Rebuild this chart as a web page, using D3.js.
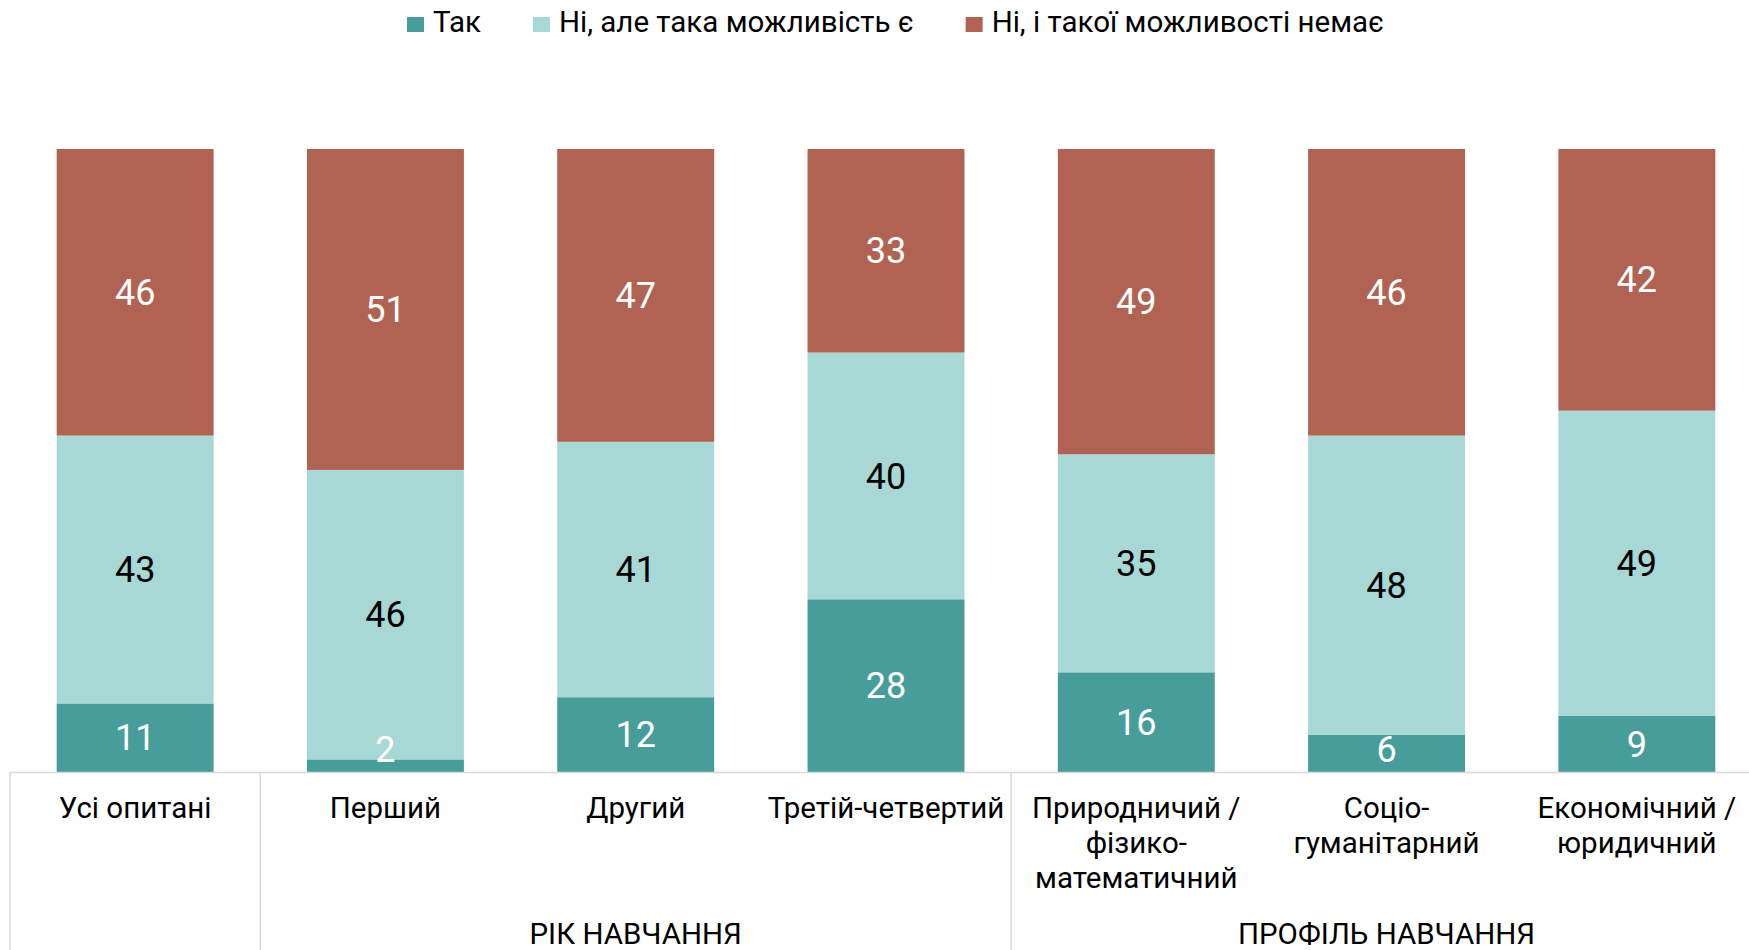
<!DOCTYPE html>
<html>
<head>
<meta charset="utf-8">
<script src="https://cdn.jsdelivr.net/npm/d3@7"></script>
<style>
  html, body { margin: 0; padding: 0; background: #fff; }
  svg { display: block; font-family: Roboto, "Noto Sans", sans-serif; }
</style>
</head>
<body>
<svg id="chart" width="1749" height="950"></svg>
<script>
// Category labels (multi-line) for the seven bars
const categories = [
  ["Усі опитані"],
  ["Перший"],
  ["Другий"],
  ["Третій-четвертий"],
  ["Природничий /", "фізико-", "математичний"],
  ["Соціо-", "гуманітарний"],
  ["Економічний /", "юридичний"]
];

// Series (percent of respondents)
const seriesNames = ["Так", "Ні, але така можливість є", "Ні, і такої можливості немає"];
const yesValues      = [11, 2, 12, 28, 16, 6, 9];
const possibleValues = [43, 46, 41, 40, 35, 48, 49];
const noValues       = [46, 51, 47, 33, 49, 46, 42];

// Category groups shown under the axis
const groupNames = ["РІК НАВЧАННЯ", "ПРОФІЛЬ НАВЧАННЯ"];
const groupRanges = [[1, 3], [4, 6]];

const colors = ["#479d99", "#a8d8d5", "#b06353"];
const labelColors = ["#ffffff", "#000000", "#ffffff"];

const svg = d3.select("#chart");
const W = 1749, H = 950;
const plotLeft = 10, plotRight = 1762, plotTop = 149, plotBottom = 772;
const textSize = 29.5, valueSize = 36;

const keys = categories.map((c, i) => i);
const rows = keys.map(i => ({ idx: i, s0: yesValues[i], s1: possibleValues[i], s2: noValues[i] }));

// 100% stacked bars
const stack = d3.stack().keys(["s0", "s1", "s2"]).offset(d3.stackOffsetExpand);
const stacked = stack(rows);

const x = d3.scaleBand().domain(keys).range([plotLeft, plotRight])
  .paddingInner(0.373).paddingOuter(0.1865);
const y = d3.scaleLinear().domain([0, 1]).range([plotBottom, plotTop]);

// Bars
const layers = svg.append("g").selectAll("g").data(stacked).join("g")
  .attr("fill", (d, i) => colors[i]);
layers.selectAll("rect").data(d => d).join("rect")
  .attr("x", d => x(d.data.idx))
  .attr("width", x.bandwidth())
  .attr("y", d => y(d[1]))
  .attr("height", d => y(d[0]) - y(d[1]));

// Value labels, centred in each segment (kept above the axis for thin segments)
const valueArrays = [yesValues, possibleValues, noValues];
stacked.forEach((layer, li) => {
  svg.append("g").selectAll("text").data(layer).join("text")
    .attr("x", d => x(d.data.idx) + x.bandwidth() / 2)
    .attr("y", d => Math.min((y(d[0]) + y(d[1])) / 2, plotBottom - 23))
    .attr("dy", "0.35em")
    .attr("text-anchor", "middle")
    .attr("font-size", valueSize)
    .attr("fill", labelColors[li])
    .text(d => valueArrays[li][d.data.idx]);
});

// Axis line and group separators
const gridColor = "#d9d9d9";
svg.append("line")
  .attr("x1", plotLeft).attr("x2", W)
  .attr("y1", plotBottom + 0.5).attr("y2", plotBottom + 0.5)
  .attr("stroke", gridColor).attr("stroke-width", 1.5);

const step = x.step();
const sepXs = [plotLeft, plotLeft + step * groupRanges[0][0], plotLeft + step * groupRanges[1][0]];
svg.append("g").selectAll("line").data(sepXs).join("line")
  .attr("x1", d => d).attr("x2", d => d)
  .attr("y1", plotBottom).attr("y2", H)
  .attr("stroke", gridColor).attr("stroke-width", 1.5);

// Category labels
const catG = svg.append("g").selectAll("text").data(categories).join("text")
  .attr("x", (d, i) => x(i) + x.bandwidth() / 2)
  .attr("y", 818)
  .attr("text-anchor", "middle")
  .attr("font-size", textSize)
  .attr("fill", "#000");
catG.selectAll("tspan").data(d => d).join("tspan")
  .attr("x", function () { return d3.select(this.parentNode).attr("x"); })
  .attr("dy", (d, j) => j === 0 ? 0 : 35)
  .text(d => d);

// Group labels
svg.append("g").selectAll("text").data(groupNames).join("text")
  .attr("x", (d, i) => (plotLeft + step * groupRanges[i][0] + plotLeft + step * (groupRanges[i][1] + 1)) / 2)
  .attr("y", 944)
  .attr("text-anchor", "middle")
  .attr("font-size", textSize)
  .attr("fill", "#000")
  .text(d => d);

// Legend
const legend = svg.append("g");
let lx = 407;
seriesNames.forEach((name, i) => {
  legend.append("rect")
    .attr("x", lx).attr("y", 17).attr("width", 17).attr("height", 15)
    .attr("fill", colors[i]);
  const t = legend.append("text")
    .attr("x", lx + 26).attr("y", 32)
    .attr("font-size", textSize).attr("fill", "#000")
    .text(name);
  lx = lx + 26 + t.node().getComputedTextLength() + 52;
});
</script>
</body>
</html>
